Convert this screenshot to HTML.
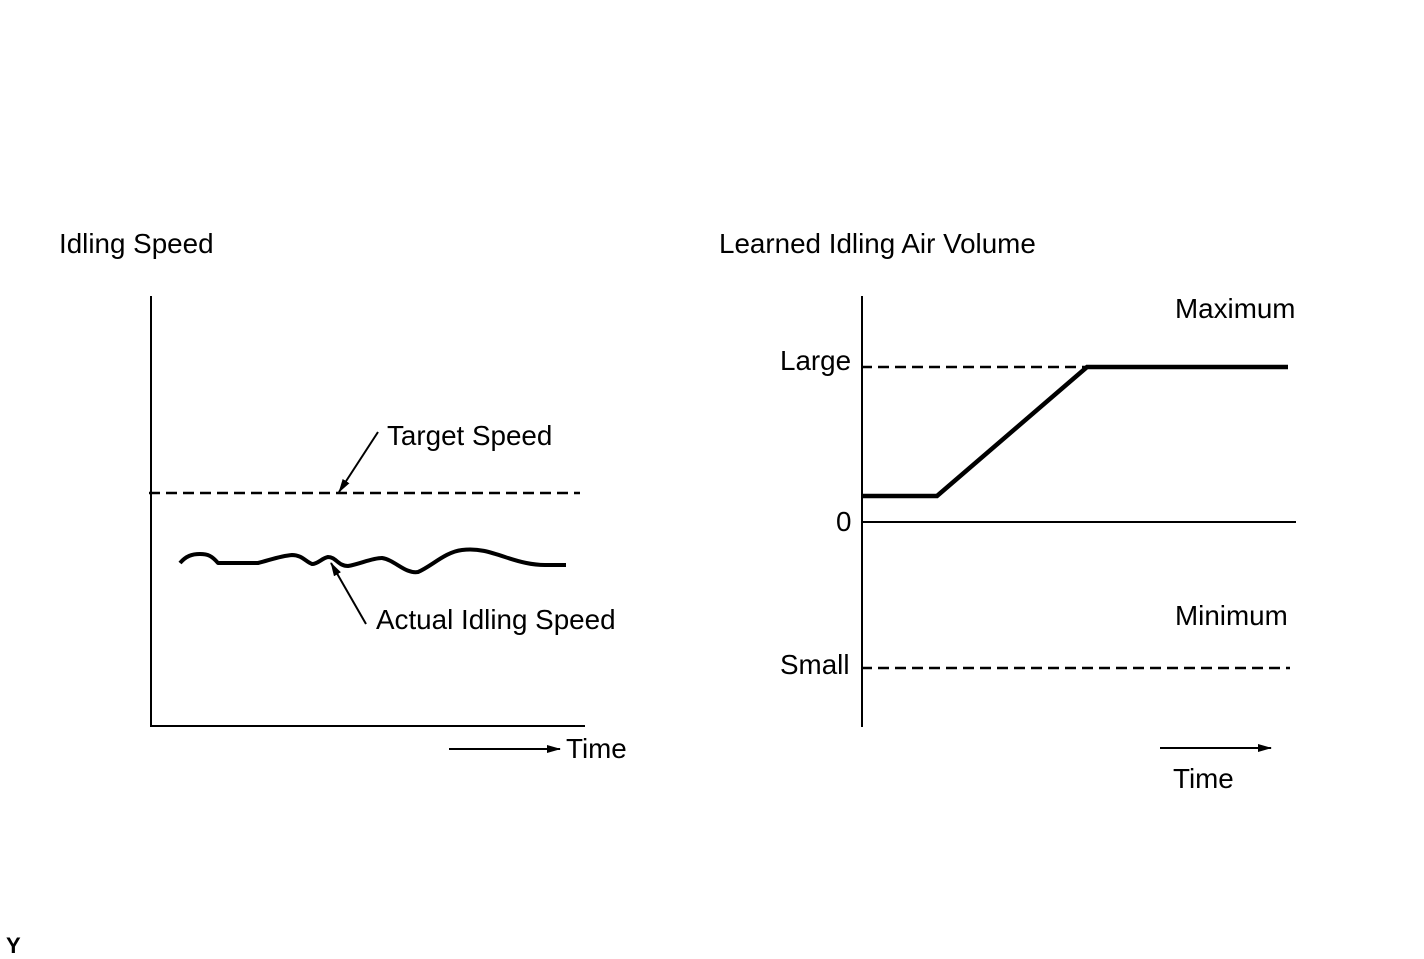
<!DOCTYPE html>
<html><head><meta charset="utf-8"><style>
html,body{margin:0;padding:0;background:#fff;}
svg{display:block;}
text{font-family:"Liberation Sans",Arial,sans-serif;font-size:27.8px;fill:#000;}
</style></head><body>
<svg width="1424" height="959" viewBox="0 0 1424 959" xmlns="http://www.w3.org/2000/svg">
<defs><marker id="ah" markerWidth="14" markerHeight="10" refX="13" refY="5" orient="auto" markerUnits="userSpaceOnUse"><path d="M0,1 L14,5 L0,9 z" fill="#000"/></marker></defs>
<!-- Left chart -->
<text x="59" y="253">Idling Speed</text>
<line x1="151" y1="296" x2="151" y2="727" stroke="#000" stroke-width="2"/>
<line x1="150" y1="726" x2="585" y2="726" stroke="#000" stroke-width="2"/>
<line x1="149" y1="493" x2="580" y2="493" stroke="#000" stroke-width="2.5" stroke-dasharray="11,6"/>
<path d="M180,563 C186,556 192,554 200,554 C208,554 212,556 218,563 L258,563 C270,560 280,556 292,555 C302,555 306,562 312,564 C318,564 322,558 328,557 C336,557 338,566 348,566 C360,564 372,558 382,558 C395,560 405,574 418,572 C432,566 445,552 462,550 C478,548 490,552 505,557 C520,562 532,565 545,565 L566,565" fill="none" stroke="#000" stroke-width="4" stroke-linejoin="round"/>
<line x1="378" y1="432" x2="339" y2="492" stroke="#000" stroke-width="2" marker-end="url(#ah)"/>
<text x="387" y="445">Target Speed</text>
<line x1="366" y1="624" x2="331" y2="563" stroke="#000" stroke-width="2" marker-end="url(#ah)"/>
<text x="376" y="629">Actual Idling Speed</text>
<line x1="449" y1="749" x2="560" y2="749" stroke="#000" stroke-width="2" marker-end="url(#ah)"/>
<text x="566" y="758">Time</text>
<!-- Right chart -->
<text x="719" y="253">Learned Idling Air Volume</text>
<line x1="862" y1="296" x2="862" y2="727" stroke="#000" stroke-width="2"/>
<line x1="862" y1="522" x2="1296" y2="522" stroke="#000" stroke-width="2"/>
<line x1="861" y1="367" x2="1087" y2="367" stroke="#000" stroke-width="2.5" stroke-dasharray="11,6"/>
<line x1="861" y1="668" x2="1290" y2="668" stroke="#000" stroke-width="2.5" stroke-dasharray="11,6"/>
<polyline points="862,496 937,496 1087,367 1288,367" fill="none" stroke="#000" stroke-width="4.5" stroke-linejoin="miter"/>
<text x="780" y="370">Large</text>
<text x="836" y="531">0</text>
<text x="780" y="674">Small</text>
<text x="1175" y="318">Maximum</text>
<text x="1175" y="625">Minimum</text>
<line x1="1160" y1="748" x2="1271" y2="748" stroke="#000" stroke-width="2" marker-end="url(#ah)"/>
<text x="1173" y="788">Time</text>
<text x="6" y="953" style="font-size:22px;font-weight:bold">Y</text>
</svg>
</body></html>
